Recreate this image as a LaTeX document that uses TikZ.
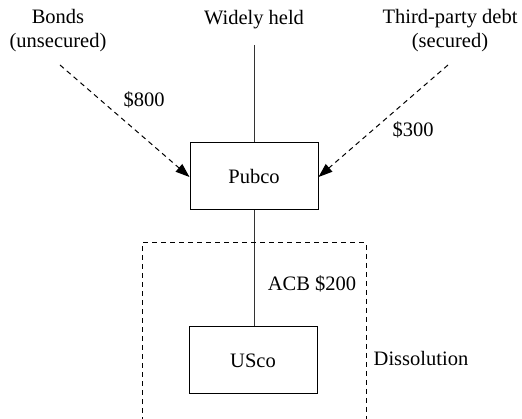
\documentclass[tikz,border=0pt]{standalone}
\usepackage{fontspec}
\setmainfont{LiberationSerif}[Extension=.ttf,UprightFont=*-Regular]
\usetikzlibrary{arrows.meta}
\begin{document}
\begin{tikzpicture}[x=1pt,y=-1pt,
  every node/.style={font=\rmfamily\fontsize{20.5}{24}\selectfont, inner sep=0pt},
  box/.style={draw, line width=1pt, minimum width=128pt, minimum height=67pt},
  conn/.style={line width=1pt, draw=black!80},
  debt/.style={line width=1pt, dash pattern=on 5pt off 4pt, -{Triangle[length=14pt,width=10pt]}},
  lbl/.style={align=center}]
\useasboundingbox (0,0) rectangle (522,419);
\clip (0,0) rectangle (522,419);
\node[box] (pub) at (254,176.5) {Pubco};
\node[box] (us) at (253,360.5) {USco};
\node[lbl] (bonds) at (58,31) {Bonds\\(unsecured)};
\node[lbl] (wide) at (254,20) {Widely held};
\node[lbl] (third) at (450,31) {Third-party debt\\(secured)};
\coordinate (wtop) at (254,45);
\coordinate (bstart) at (60,65);
\coordinate (tstart) at (448,65);
\draw[conn] (wtop) -- (pub.north);
\draw[conn] (pub.south) -- (pub.south |- us.north);
\draw[debt] (bstart) -- (pub.west |- 0,177);
\draw[debt] (tstart) -- (pub.east |- 0,177);
\node (d800) at (144,100) {\$800};
\node (d300) at (413,130) {\$300};
\node (acb) at (312,284) {ACB \$200};
\node (diss) at (421,358) {Dissolution};
\draw[line width=1pt, dash pattern=on 5pt off 4pt] (142,440) -- (142,243) -- (366,243) -- (366,440);
\end{tikzpicture}
\end{document}
